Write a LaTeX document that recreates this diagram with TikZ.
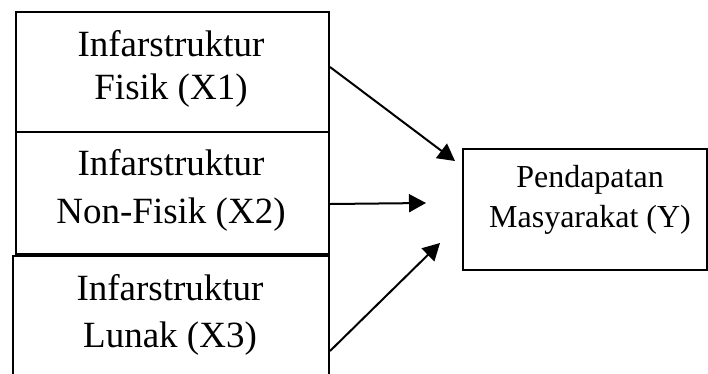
\documentclass[tikz,border=0pt]{standalone}
\usepackage{fontspec}
\setmainfont{Liberation Serif}
\usetikzlibrary{arrows.meta}
\tikzset{
  box/.style={draw=black,line width=2pt,fill=none,inner sep=0pt,anchor=north west},
  bigtxt/.style={anchor=base,inner sep=0pt,font=\fontsize{37}{43}\selectfont},
  smalltxt/.style={anchor=base,inner sep=0pt,font=\fontsize{32}{38}\selectfont},
  link/.style={line width=2pt,arrows={-Triangle[length=17pt,width=18pt]}}
}
\begin{document}
\begin{tikzpicture}[x=1pt,y=-1pt]
\useasboundingbox (0,0) rectangle (708,373);
\begin{scope}
\clip (0,0) rectangle (708,373);
% left column of input boxes
\node[box,minimum width=313pt,minimum height=120pt] (x1) at (15,11) {};
\node[box,minimum width=313pt,minimum height=122pt] (x2) at (15,131) {};
\node[box,minimum width=316pt,minimum height=135pt] (x3) at (12,255) {};
\end{scope}

% outcome box
\node[box,minimum width=244pt,minimum height=121pt] (y) at (462,148) {};

% box labels
\node[bigtxt] (x1a) at (171,56) {Infarstruktur};
\node[bigtxt] (x1b) at (171,99) {Fisik (X1)};
\node[bigtxt] (x2a) at (171,175) {Infarstruktur};
\node[bigtxt] (x2b) at (171,223) {Non-Fisik (X2)};
\node[bigtxt] (x3a) at (170,300) {Infarstruktur};
\node[bigtxt] (x3b) at (170,347) {Lunak (X3)};
\node[smalltxt] (ya) at (590,187) {Pendapatan};
\node[smalltxt] (yb) at (590,227) {Masyarakat (Y)};

% arrow tips stop short of the outcome box
\coordinate (t1) at (455,161);
\coordinate (t2) at (426,203);
\coordinate (t3) at (440,243);

\draw[link] ([yshift=5pt]x1.east) -- (t1);
\draw[link] ([yshift=-11pt]x2.east) -- (t2);
\draw[link] ([yshift=-27.5pt]x3.east) -- (t3);
\end{tikzpicture}
\end{document}
